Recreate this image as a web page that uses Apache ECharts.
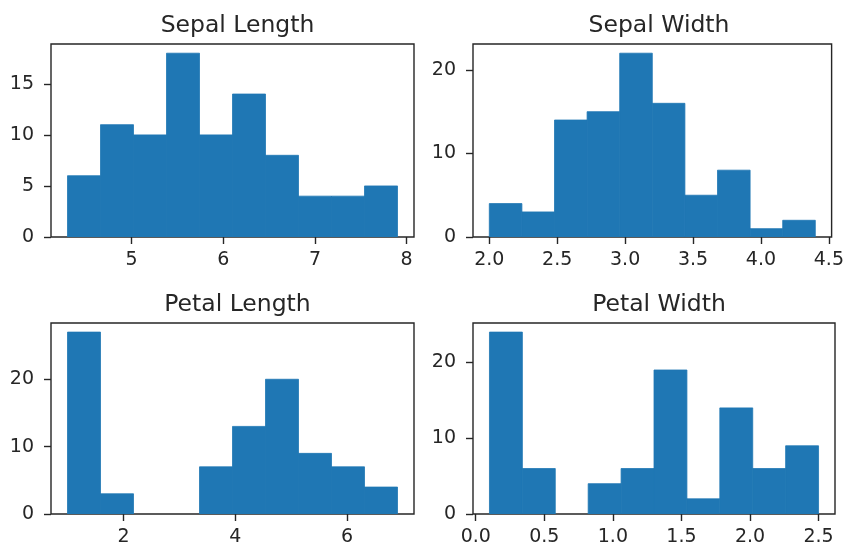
<!DOCTYPE html>
<html>
<head>
<meta charset="utf-8">
<script src="https://cdn.jsdelivr.net/npm/echarts@6/dist/echarts.min.js"></script>
<style>
  html, body { margin: 0; padding: 0; background: #fff; }
  #chart { width: 847px; height: 547px; }
</style>
</head>
<body>
<div id="chart"></div>
<script>
// Iris feature histograms (10 bins each)
const titles = ['Sepal Length', 'Sepal Width', 'Petal Length', 'Petal Width'];

const sepalLengthEdges = [4.3, 4.66, 5.02, 5.38, 5.74, 6.1, 6.46, 6.82, 7.18, 7.54, 7.9];
const sepalLengthCounts = [6, 11, 10, 18, 10, 14, 8, 4, 4, 5];

const sepalWidthEdges = [2.0, 2.24, 2.48, 2.72, 2.96, 3.2, 3.44, 3.68, 3.92, 4.16, 4.4];
const sepalWidthCounts = [4, 3, 14, 15, 22, 16, 5, 8, 1, 2];

const petalLengthEdges = [1.0, 1.59, 2.18, 2.77, 3.36, 3.95, 4.54, 5.13, 5.72, 6.31, 6.9];
const petalLengthCounts = [27, 3, 0, 0, 7, 13, 20, 9, 7, 4];

const petalWidthEdges = [0.1, 0.34, 0.58, 0.82, 1.06, 1.3, 1.54, 1.78, 2.02, 2.26, 2.5];
const petalWidthCounts = [24, 6, 0, 4, 6, 19, 2, 14, 6, 9];

// Tick values per panel
const sepalLengthXTicks = [5, 6, 7, 8];
const sepalLengthYTicks = [0, 5, 10, 15];
const sepalWidthXTicks = [2.0, 2.5, 3.0, 3.5, 4.0, 4.5];
const sepalWidthYTicks = [0, 10, 20];
const petalLengthXTicks = [2, 4, 6];
const petalLengthYTicks = [0, 10, 20];
const petalWidthXTicks = [0.0, 0.5, 1.0, 1.5, 2.0, 2.5];
const petalWidthYTicks = [0, 10, 20];

const panels = [
  { edges: sepalLengthEdges, counts: sepalLengthCounts, xTicks: sepalLengthXTicks, yTicks: sepalLengthYTicks, decimals: 0 },
  { edges: sepalWidthEdges, counts: sepalWidthCounts, xTicks: sepalWidthXTicks, yTicks: sepalWidthYTicks, decimals: 1 },
  { edges: petalLengthEdges, counts: petalLengthCounts, xTicks: petalLengthXTicks, yTicks: petalLengthYTicks, decimals: 0 },
  { edges: petalWidthEdges, counts: petalWidthCounts, xTicks: petalWidthXTicks, yTicks: petalWidthYTicks, decimals: 1 }
];

const FONT = 'DejaVu Sans';
const INK = '#262626';
const BAR = '#1f77b4';

// Axes boxes for the 2x2 layout
const boxes = [
  { left: 51, top: 44, width: 363, height: 193 },
  { left: 473, top: 44, width: 362, height: 193 },
  { left: 51, top: 323, width: 363, height: 193 },
  { left: 473, top: 323, width: 362, height: 193 }
];

// Data limits padded by 5% as in the usual histogram autoscale
function padded(lo, hi) {
  const m = (hi - lo) * 0.05;
  return [lo - m, hi + m];
}

const grid = [], xAxis = [], yAxis = [], series = [], title = [];

panels.forEach((p, i) => {
  const b = boxes[i];
  grid.push({
    left: b.left, top: b.top, width: b.width, height: b.height,
    show: true, borderColor: INK, borderWidth: 1.4, backgroundColor: 'transparent',
    containLabel: false
  });

  const xr = padded(p.edges[0], p.edges[p.edges.length - 1]);
  xAxis.push({
    type: 'value', gridIndex: i, min: xr[0], max: xr[1],
    axisLine: { show: false, onZero: false },
    axisTick: { show: true, length: 7, lineStyle: { color: INK, width: 1.4 }, customValues: p.xTicks },
    axisLabel: {
      customValues: p.xTicks, margin: 14,
      fontFamily: FONT, fontSize: 19, color: INK,
      formatter: v => Number(v).toFixed(p.decimals)
    },
    splitLine: { show: false }
  });

  const maxCount = Math.max.apply(null, p.counts);
  yAxis.push({
    type: 'value', gridIndex: i, min: 0, max: maxCount * 1.05,
    axisLine: { show: false, onZero: false },
    axisTick: { show: true, length: 7, lineStyle: { color: INK, width: 1.4 }, customValues: p.yTicks },
    axisLabel: {
      customValues: p.yTicks, margin: 17,
      fontFamily: FONT, fontSize: 19, color: INK,
      formatter: v => String(v)
    },
    splitLine: { show: false }
  });

  const data = p.counts.map((c, k) => [p.edges[k], p.edges[k + 1], c]);
  series.push({
    type: 'custom', xAxisIndex: i, yAxisIndex: i, data: data,
    encode: { x: [0, 1], y: 2 },
    clip: true,
    renderItem: (params, api) => {
      if (api.value(2) <= 0) return null;
      const topLeft = api.coord([api.value(0), api.value(2)]);
      const bottomRight = api.coord([api.value(1), 0]);
      return {
        type: 'rect',
        shape: {
          x: topLeft[0], y: topLeft[1],
          width: bottomRight[0] - topLeft[0],
          height: bottomRight[1] - topLeft[1]
        },
        style: { fill: BAR, stroke: BAR, lineWidth: 0.8 }
      };
    }
  });

  title.push({
    text: titles[i],
    left: b.left + b.width / 2,
    top: b.top - 35,
    textAlign: 'center',
    textStyle: { fontFamily: FONT, fontSize: 23.5, fontWeight: 'normal', color: INK }
  });
});

const chart = echarts.init(document.getElementById('chart'), null, { renderer: 'canvas' });
chart.setOption({
  animation: false,
  backgroundColor: '#fff',
  title: title,
  grid: grid,
  xAxis: xAxis,
  yAxis: yAxis,
  series: series
});
</script>
</body>
</html>
